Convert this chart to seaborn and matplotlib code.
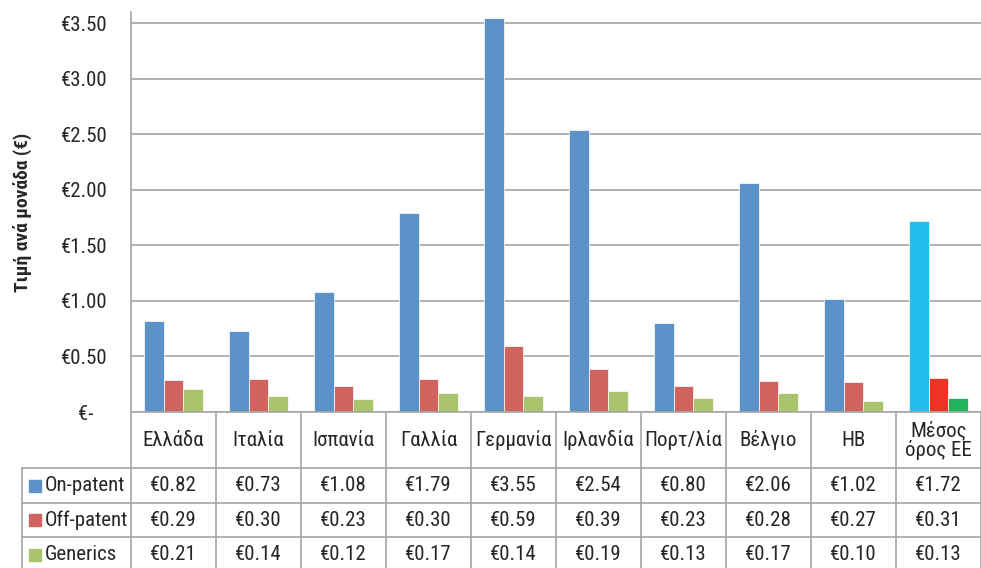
import numpy as np
import pandas as pd
import matplotlib
matplotlib.use('Agg')
import matplotlib.pyplot as plt
import seaborn as sns
from matplotlib import font_manager as fm
from matplotlib.patches import Rectangle
from matplotlib.ticker import FuncFormatter

# Δεδομένα: τιμή ανά μονάδα (€)
countries = ['Ελλάδα', 'Ιταλία', 'Ισπανία', 'Γαλλία', 'Γερμανία', 'Ιρλανδία',
             'Πορτ/λία', 'Βέλγιο', 'ΗΒ', 'Μέσος\nόρος ΕΕ']
series = ['On-patent', 'Off-patent', 'Generics']
on_patent = [0.82, 0.73, 1.08, 1.79, 3.55, 2.54, 0.80, 2.06, 1.02, 1.72]
off_patent = [0.29, 0.30, 0.23, 0.30, 0.59, 0.39, 0.23, 0.28, 0.27, 0.31]
generics = [0.21, 0.14, 0.12, 0.17, 0.14, 0.19, 0.13, 0.17, 0.10, 0.13]
y_ticks = [0, 0.5, 1.0, 1.5, 2.0, 2.5, 3.0, 3.5]

colors = ['#5B93C8', '#D0635D', '#A9C46C']
avg_colors = ['#22BFEE', '#EE3324', '#22B15C']
grid_c = '#A6A6A6'
text_c = '#262626'

values = {'On-patent': on_patent, 'Off-patent': off_patent, 'Generics': generics}
df = pd.DataFrame([{'country': c, 'series': s, 'value': values[s][i]}
                   for s in series for i, c in enumerate(countries)])

sns.set_theme(style='white')

# στενή γραμματοσειρά αν υπάρχει
names = {f.name for f in fm.fontManager.ttflist}
dejavu_cond = any(f.name == 'DejaVu Sans' and 'Condensed' in f.fname
                  for f in fm.fontManager.ttflist)
if 'Roboto Condensed' in names:
    plt.rcParams['font.family'] = ['Roboto Condensed', 'DejaVu Sans']
    FS = 15
elif 'Liberation Sans Narrow' in names:
    plt.rcParams['font.family'] = ['Liberation Sans Narrow', 'DejaVu Sans']
    FS = 15
elif dejavu_cond:
    plt.rcParams['font.family'] = ['DejaVu Sans']
    plt.rcParams['font.stretch'] = 'condensed'
    FS = 12.5
else:
    plt.rcParams['font.family'] = ['Roboto', 'DejaVu Sans']
    FS = 13

W, H = 981, 568
fig = plt.figure(figsize=(W / 100, H / 100), dpi=100)
ax = fig.add_axes([131 / W, 1 - 412 / H, 850 / W, 400 / H])

sns.barplot(data=df, x='country', y='value', hue='series', hue_order=series,
            order=countries, palette=colors, saturation=1, width=0.69, gap=0,
            ax=ax, legend=False, edgecolor='white', linewidth=0.5)

# Μέσος όρος ΕΕ με άλλα χρώματα
for i, cont in enumerate(ax.containers):
    cont.patches[-1].set_facecolor(avg_colors[i])

ax.set_xlim(-0.5, len(countries) - 0.5)
ax.set_ylim(0, 3.6)
ax.set_yticks(y_ticks)
ax.yaxis.set_major_formatter(FuncFormatter(lambda v, p: '€-   ' if v == 0 else f'€{v:.2f}'))
ax.tick_params(axis='y', length=0, pad=17, labelsize=FS, labelcolor=text_c)
ax.set_xticks([])
ax.set_xlabel('')
ax.grid(axis='y', color=grid_c, lw=1.2)
ax.set_axisbelow(True)
for side in ['top', 'right']:
    ax.spines[side].set_visible(False)
for side in ['left', 'bottom']:
    ax.spines[side].set_color(grid_c)
    ax.spines[side].set_linewidth(1.2)
ax.set_ylabel('Τιμή ανά μονάδα (€)', fontsize=FS - 1, fontweight='bold', color=text_c)
ax.yaxis.set_label_coords((32 - 131) / 850, 0.5)

# Πίνακας δεδομένων κάτω από το γράφημα
tax = fig.add_axes([22 / W, 0, 959 / W, 156 / H])
x0 = -0.5 - 109 / 85
tax.set_xlim(x0, len(countries) - 0.5)
tax.set_ylim(156, 0)
tax.axis('off')
row_y = [56, 91, 125, 160]
for y in row_y[:3]:
    tax.plot([x0, len(countries) - 0.5], [y, y], color=grid_c, lw=1.2, clip_on=False)
for k in range(len(countries) + 1):
    tax.plot([k - 0.5, k - 0.5], [0, 160], color=grid_c, lw=1.2, clip_on=False)
tax.plot([x0, x0], [56, 160], color=grid_c, lw=1.2, clip_on=False)

for i, c in enumerate(countries):
    tax.text(i, 28, c, ha='center', va='center', fontsize=FS, color=text_c,
             linespacing=1.0)
for r, s in enumerate(series):
    yc = (row_y[r] + row_y[r + 1]) / 2
    tax.add_patch(Rectangle((x0 + 7 / 85, yc - 6), 12 / 85, 12,
                            color=colors[r], clip_on=False))
    tax.text(x0 + 23 / 85, yc, s, ha='left', va='center', fontsize=FS, color=text_c)
    for i, v in enumerate(values[s]):
        tax.text(i, yc, f'€{v:.2f}', ha='center', va='center', fontsize=FS, color=text_c)

fig.savefig('out.png', dpi=100)
